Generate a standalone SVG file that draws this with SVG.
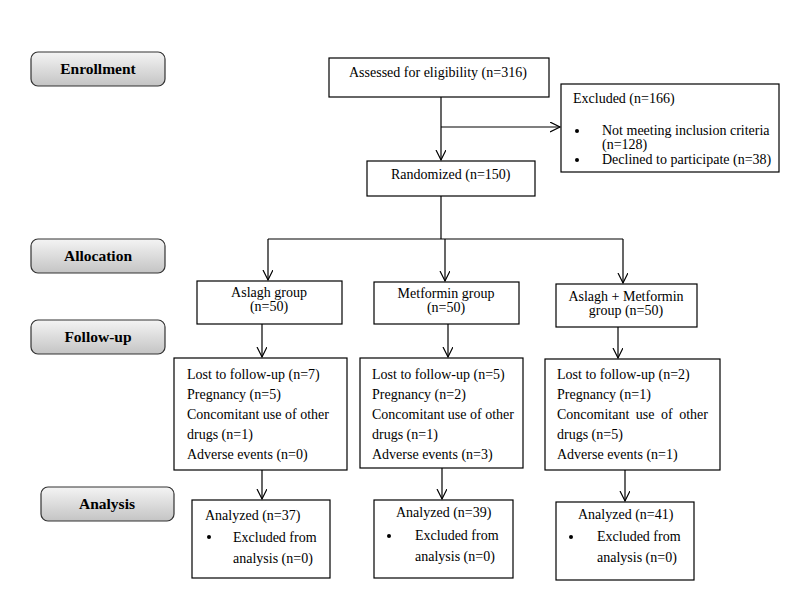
<svg xmlns="http://www.w3.org/2000/svg" width="787" height="615" viewBox="0 0 787 615">
<style>
.t{font-family:"Liberation Serif","Times New Roman",serif;font-size:14px;fill:#000}
.h{font-family:"Liberation Serif","Times New Roman",serif;font-size:15.5px;font-weight:bold;fill:#000}
.b{fill:#fff;stroke:#000;stroke-width:1.2}
.hb{fill:url(#g);stroke:#333;stroke-width:1.2}
.c{fill:none;stroke:#000;stroke-width:1.2}
</style>
<defs>
<linearGradient id="g" x1="0" y1="0" x2="0" y2="1">
<stop offset="0" stop-color="#f4f4f4"/>
<stop offset="1" stop-color="#c4c4c4"/>
</linearGradient>
<marker id="a" markerWidth="12" markerHeight="12" refX="10" refY="5" orient="auto" markerUnits="userSpaceOnUse">
<polyline points="0,0 10,5 0,10" fill="none" stroke="#000" stroke-width="1.2"/>
</marker>
</defs>
<rect width="787" height="615" fill="#fff"/>

<g id="enrollment"><rect class="hb" x="31" y="52" width="134" height="34" rx="7"/><text class="h" x="98" y="74" text-anchor="middle">Enrollment</text></g>
<g id="allocation"><rect class="hb" x="31" y="239" width="134" height="34" rx="7"/><text class="h" x="98" y="261" text-anchor="middle">Allocation</text></g>
<g id="followup"><rect class="hb" x="31" y="320" width="134" height="34" rx="7"/><text class="h" x="98" y="342" text-anchor="middle">Follow-up</text></g>
<g id="analysis"><rect class="hb" x="41" y="487" width="133" height="34" rx="7"/><text class="h" x="107" y="509" text-anchor="middle">Analysis</text></g>

<g id="assessed"><rect class="b" x="329" y="58" width="220" height="39"/><text class="t" x="349" y="77">Assessed for eligibility (n=316)</text></g>
<g id="excluded"><rect class="b" x="561" y="84" width="218" height="88"/>
<text class="t" x="573" y="103">Excluded (n=166)</text>
<circle cx="577" cy="131" r="2"/><text class="t" x="602" y="135">Not meeting inclusion criteria</text>
<text class="t" x="602" y="149">(n=128)</text>
<circle cx="577" cy="160" r="2"/><text class="t" x="602" y="164">Declined to participate (n=38)</text></g>
<g id="randomized"><rect class="b" x="367" y="161" width="168" height="35"/><text class="t" x="391" y="179">Randomized (n=150)</text></g>

<g id="aslagh"><rect class="b" x="197" y="281" width="145" height="43"/><text class="t" x="269" y="297" text-anchor="middle">Aslagh group</text><text class="t" x="269" y="311" text-anchor="middle">(n=50)</text></g>
<g id="metformin"><rect class="b" x="374" y="282" width="145" height="42"/><text class="t" x="446" y="298" text-anchor="middle">Metformin group</text><text class="t" x="446" y="312" text-anchor="middle">(n=50)</text></g>
<g id="combo"><rect class="b" x="556" y="284" width="141" height="43"/><text class="t" x="626" y="301" text-anchor="middle">Aslagh + Metformin</text><text class="t" x="626" y="315" text-anchor="middle">group (n=50)</text></g>

<g id="fu1"><rect class="b" x="174" y="358" width="173" height="112"/>
<text class="t" x="187" y="379">Lost to follow-up (n=7)</text>
<text class="t" x="187" y="399">Pregnancy (n=5)</text>
<text class="t" x="187" y="419">Concomitant use of other</text>
<text class="t" x="187" y="439">drugs (n=1)</text>
<text class="t" x="187" y="459">Adverse events (n=0)</text></g>
<g id="fu2"><rect class="b" x="360" y="358" width="163" height="110"/>
<text class="t" x="372" y="379">Lost to follow-up (n=5)</text>
<text class="t" x="372" y="399">Pregnancy (n=2)</text>
<text class="t" x="372" y="419">Concomitant use of other</text>
<text class="t" x="372" y="439">drugs (n=1)</text>
<text class="t" x="372" y="459">Adverse events (n=3)</text></g>
<g id="fu3"><rect class="b" x="545" y="359" width="175" height="111"/>
<text class="t" x="557" y="379">Lost to follow-up (n=2)</text>
<text class="t" x="557" y="399">Pregnancy (n=1)</text>
<text class="t" x="557" y="419" word-spacing="3">Concomitant use of other</text>
<text class="t" x="557" y="439">drugs (n=5)</text>
<text class="t" x="557" y="459">Adverse events (n=1)</text></g>

<g id="an1"><rect class="b" x="192" y="500" width="138" height="78"/>
<text class="t" x="205" y="520">Analyzed (n=37)</text>
<circle cx="209" cy="537" r="2"/><text class="t" x="233" y="542">Excluded from</text>
<text class="t" x="233" y="563">analysis (n=0)</text></g>
<g id="an2"><rect class="b" x="374" y="500" width="139" height="78"/>
<text class="t" x="396" y="517">Analyzed (n=39)</text>
<circle cx="389" cy="536" r="2"/><text class="t" x="415" y="540">Excluded from</text>
<text class="t" x="415" y="561">analysis (n=0)</text></g>
<g id="an3"><rect class="b" x="556" y="502" width="138" height="78"/>
<text class="t" x="578" y="519">Analyzed (n=41)</text>
<circle cx="571" cy="537" r="2"/><text class="t" x="597" y="541">Excluded from</text>
<text class="t" x="597" y="562">analysis (n=0)</text></g>

<g id="connectors" class="c">
<path d="M441,97 V160" marker-end="url(#a)"/>
<path d="M441,127 H560" marker-end="url(#a)"/>
<path d="M441,196 V239"/>
<path d="M268,239 H623"/>
<path d="M268,239 V280" marker-end="url(#a)"/>
<path d="M445,239 V281" marker-end="url(#a)"/>
<path d="M623,239 V283" marker-end="url(#a)"/>
<path d="M262,324 V357" marker-end="url(#a)"/>
<path d="M448,324 V357" marker-end="url(#a)"/>
<path d="M618,327 V358" marker-end="url(#a)"/>
<path d="M262,470 V499" marker-end="url(#a)"/>
<path d="M442,468 V499" marker-end="url(#a)"/>
<path d="M625,470 V501" marker-end="url(#a)"/>
</g>
</svg>
